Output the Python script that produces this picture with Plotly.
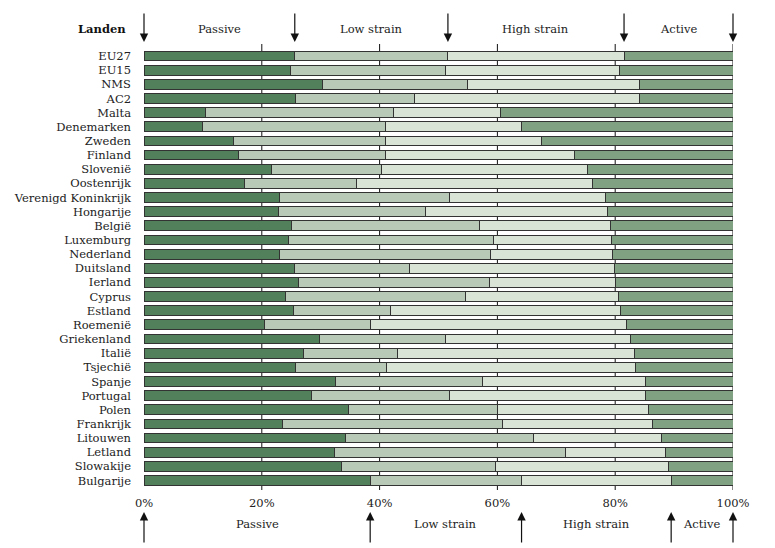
import plotly.graph_objects as go

countries = ["EU27", "EU15", "NMS", "AC2", "Malta", "Denemarken", "Zweden", "Finland",
             "Slovenië", "Oostenrijk", "Verenigd Koninkrijk", "Hongarije", "België",
             "Luxemburg", "Nederland", "Duitsland", "Ierland", "Cyprus", "Estland",
             "Roemenië", "Griekenland", "Italië", "Tsjechië", "Spanje", "Portugal",
             "Polen", "Frankrijk", "Litouwen", "Letland", "Slowakije", "Bulgarije"]

passive = [25.6, 24.8, 30.3, 25.8, 10.5, 9.9, 15.2, 16.0, 21.6, 17.1, 23.0, 22.9, 25.1,
           24.6, 23.0, 25.5, 26.3, 24.1, 25.4, 20.4, 29.8, 27.1, 25.8, 32.5, 28.4,
           34.8, 23.5, 34.2, 32.3, 33.6, 38.4]
low_strain = [26.0, 26.4, 24.6, 20.1, 31.9, 31.1, 25.8, 25.0, 18.8, 19.0, 28.9, 24.9, 31.8,
              34.7, 35.9, 19.5, 32.3, 30.5, 16.5, 18.0, 21.4, 15.9, 15.3, 24.9, 23.4,
              25.2, 37.3, 31.9, 39.3, 26.0, 25.7]
high_strain = [29.9, 29.5, 29.2, 38.2, 18.2, 23.1, 26.5, 32.1, 34.9, 40.1, 26.5, 30.9, 22.3,
               20.0, 20.6, 34.8, 21.4, 25.9, 39.0, 43.5, 31.4, 40.2, 42.3, 27.7, 33.4,
               25.7, 25.6, 21.7, 16.9, 29.5, 25.4]
active = [18.5, 19.3, 15.9, 15.9, 39.4, 35.9, 32.5, 26.9, 24.7, 23.8, 21.6, 21.3, 20.8,
          20.7, 20.5, 20.2, 20.0, 19.5, 19.1, 18.1, 17.4, 16.8, 16.6, 14.9, 14.8,
          14.3, 13.6, 12.2, 11.5, 10.9, 10.5]

series_names = ["Passive", "Low strain", "High strain", "Active"]
series_values = [passive, low_strain, high_strain, active]
colors = ["#52805a", "#b8cab7", "#d9e3d6", "#80a283"]

tick_vals = [0, 20, 40, 60, 80, 100]
tick_text = ["0%", "20%", "40%", "60%", "80%", "100%"]

FONT = "DejaVu Serif"
FS = 11.5
TXT = "#222222"
PH = 446.0  # plot height in px

fig = go.Figure()
for name, vals, col in zip(series_names, series_values, colors):
    fig.add_trace(go.Bar(
        y=list(range(len(countries))), x=vals, name=name, orientation="h",
        marker=dict(color=col, line=dict(color="#333333", width=1)),
        showlegend=False, hoverinfo="x+name"))

# grid lines (drawn under bars)
shapes = []
for v in [20, 40, 60, 80, 100]:
    shapes.append(dict(type="line", xref="x", yref="paper", x0=v, x1=v, y0=0, y1=1,
                       line=dict(color="#111111", width=1), layer="below"))


def cumulative(idx):
    vals = [s[idx] for s in series_values]
    out = [0.0]
    for v in vals:
        out.append(out[-1] + v)
    out[-1] = 100.0
    return out


annotations = []
top_b = cumulative(0)
bot_b = cumulative(len(countries) - 1)

# top arrows (pointing down) based on the first row
for b in top_b:
    annotations.append(dict(x=b, y=1.0 + 2 / PH, xref="x", yref="paper", text="",
                            showarrow=True, arrowhead=2, arrowsize=1.4, arrowwidth=1.2,
                            arrowcolor="#111111", ax=0, ay=-30))
for i, name in enumerate(series_names):
    annotations.append(dict(x=(top_b[i] + top_b[i + 1]) / 2, y=1.0 + 15 / PH,
                            xref="x", yref="paper", text=name, showarrow=False,
                            font=dict(family=FONT, size=FS, color=TXT),
                            xanchor="center", yanchor="middle"))

# bottom arrows (pointing up) based on the last row
y_tip = -(512 - 490) / PH
for b in bot_b:
    annotations.append(dict(x=b, y=y_tip, xref="x", yref="paper", text="",
                            showarrow=True, arrowhead=2, arrowsize=1.4, arrowwidth=1.2,
                            arrowcolor="#111111", ax=0, ay=32))
for i, name in enumerate(series_names):
    annotations.append(dict(x=(bot_b[i] + bot_b[i + 1]) / 2, y=-(524 - 490) / PH,
                            xref="x", yref="paper", text=name, showarrow=False,
                            font=dict(family=FONT, size=FS, color=TXT),
                            xanchor="center", yanchor="middle"))

annotations.append(dict(x=-16 / 589.0, y=1.0 + 15 / PH, xref="paper", yref="paper",
                        text="<b>Landen</b>", showarrow=False, xanchor="right",
                        yanchor="middle", font=dict(family=FONT, size=FS, color="#111111")))

fig.update_layout(
    width=775, height=548,
    margin=dict(l=136, r=50, t=36, b=66, autoexpand=False),
    barmode="stack", bargap=0.31,
    plot_bgcolor="white", paper_bgcolor="white",
    font=dict(family=FONT, size=FS, color=TXT),
    shapes=shapes, annotations=annotations,
    xaxis=dict(range=[0, 100], tickvals=tick_vals, ticktext=tick_text, showgrid=False,
               zeroline=False, showline=False, ticks="", ticklen=0,
               ticklabelstandoff=4,
               tickfont=dict(family=FONT, size=FS, color=TXT)),
    yaxis=dict(range=[30.67, -0.85], tickvals=list(range(len(countries))),
               ticktext=countries, showgrid=False, zeroline=False, showline=False,
               ticks="", ticklabelstandoff=12,
               tickfont=dict(family=FONT, size=FS, color=TXT)),
)

fig.write_html("out.html")
